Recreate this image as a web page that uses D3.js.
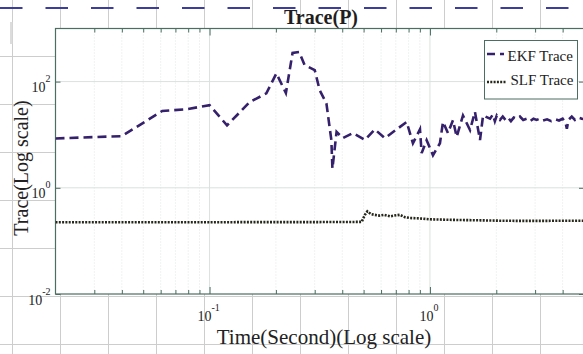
<!DOCTYPE html>
<html>
<head>
<meta charset="utf-8">
<script src="https://cdn.jsdelivr.net/npm/d3@7"></script>
<style>
  html, body { margin: 0; padding: 0; background: #fff; }
  svg { display: block; }
</style>
</head>
<body>
<svg id="chart" width="583" height="354"></svg>
<script>
'use strict';

// EKF trace (dashed)
var ekfTime = [0.02, 0.04, 0.061, 0.078, 0.1, 0.12, 0.152, 0.181, 0.201, 0.222, 0.238, 0.255,
    0.27, 0.3, 0.316, 0.339, 0.351, 0.357, 0.361, 0.377, 0.402, 0.447, 0.507, 0.562, 0.624,
    0.706, 0.784, 0.837, 0.901, 0.917, 0.966, 1.032, 1.11, 1.146, 1.207, 1.272, 1.322, 1.412,
    1.52, 1.6, 1.687, 1.742, 1.874, 1.93, 1.97, 2.01, 2.08, 2.14, 2.2, 2.26, 2.33, 2.4, 2.48,
    2.56, 2.65, 2.75, 2.85, 2.95, 3.05, 3.15, 3.26, 3.4, 3.55, 3.7, 3.85, 4.0, 4.12, 4.18,
    4.25, 4.4, 4.55, 4.7, 4.89, 5.0];
var ekfTrace = [8.5, 9.4, 28, 30, 36, 15, 41, 60, 143, 61, 346, 360,
    204, 165, 69, 39, 13.3, 7.9, 2.3, 11.3, 8.6, 10.7, 8, 12.6, 8.6,
    12.6, 17.4, 6.9, 12.6, 4.5, 7.9, 4.1, 6.9, 17.4, 10.7, 18.8, 9.1, 23,
    12.2, 27, 7.9, 23, 20, 24, 18, 23, 19, 22, 19, 21, 18, 21, 20,
    22, 19, 20, 18, 20, 19, 20, 18.5, 19.5, 18, 19.5, 18.5, 20, 17, 13,
    19, 22, 19, 21, 20, 19.5];

// SLF trace (dotted)
var slfTime = [0.02, 0.1, 0.3, 0.49, 0.507, 0.52, 0.54, 0.56, 0.59, 0.62, 0.66, 0.69, 0.73,
    0.77, 0.81, 0.9, 1.0, 1.2, 1.4, 1.7, 2.1, 2.6, 3.2, 4.0, 5.0];
var slfTrace = [0.225, 0.225, 0.226, 0.228, 0.31, 0.36, 0.32, 0.31, 0.3, 0.31, 0.29, 0.3, 0.31,
    0.28, 0.27, 0.265, 0.255, 0.25, 0.247, 0.244, 0.24, 0.238, 0.238, 0.24, 0.24];

var xMajorTicks = [0.1, 1];
var xMinorTicks = [0.03, 0.04, 0.05, 0.06, 0.07, 0.08, 0.09, 0.2, 0.3, 0.4, 0.5, 0.6, 0.7,
    0.8, 0.9, 2, 3, 4];
var yMajorTicks = [0.01, 1, 100];
var seriesLabels = ['EKF Trace', 'SLF Trace'];

var width = 583;
var height = 354;
var plot = {left: 55.5, right: 584, top: 28.5, bottom: 294};
var axisColor = '#4b6d62';
var serif = '"Liberation Serif", "Times New Roman", serif';
var ekfColor = '#35206c';
var slfColor = '#26261a';

var svg = d3.select('#chart');

// light sheet grid the figure was pasted onto
var sheet = svg.append('g').attr('stroke', '#cdcdcd').attr('stroke-width', 1);
d3.range(12.5, width, 48).forEach(function(gx) {
    sheet.append('line').attr('x1', gx).attr('x2', gx).attr('y1', 0).attr('y2', height);
});
d3.range(56.5, height, 48).forEach(function(gy) {
    sheet.append('line').attr('x1', 0).attr('x2', width).attr('y1', gy).attr('y2', gy);
});
svg.append('rect').attr('x', 10).attr('y', 22).attr('width', 2.5).attr('height', 22)
        .attr('fill', '#dcdcdc');
// dashed blue rule along the top
svg.append('line').attr('x1', 0).attr('x2', width).attr('y1', 8).attr('y2', 8)
        .attr('stroke', '#3d3d9c').attr('stroke-width', 2)
        .attr('stroke-dasharray', '22.5,23');

var x = d3.scaleLog().domain([0.02, 5]).range([plot.left, plot.right]);
var y = d3.scaleLog().domain([0.01, 1000]).range([plot.bottom, plot.top]);

// plot background covers the sheet grid
svg.append('rect')
        .attr('x', plot.left).attr('y', plot.top)
        .attr('width', plot.right - plot.left).attr('height', plot.bottom - plot.top)
        .attr('fill', '#fff');

// grid lines inside the axes
var grid = svg.append('g');
xMinorTicks.forEach(function(t) {
    grid.append('line')
            .attr('x1', x(t)).attr('x2', x(t)).attr('y1', plot.top).attr('y2', plot.bottom)
            .attr('stroke', '#dfe6e3').attr('stroke-width', 1).attr('stroke-dasharray', '1,2');
});
xMajorTicks.forEach(function(t) {
    grid.append('line')
            .attr('x1', x(t)).attr('x2', x(t)).attr('y1', plot.top).attr('y2', plot.bottom)
            .attr('stroke', '#d9e2de').attr('stroke-width', 1);
});
yMajorTicks.slice(1).forEach(function(v) {
    grid.append('line')
            .attr('x1', plot.left).attr('x2', plot.right).attr('y1', y(v)).attr('y2', y(v))
            .attr('stroke', '#d9e2de').attr('stroke-width', 1);
});

// axes: ticks drawn inward on all four sides
var addAxis = function(axis, tx, ty) {
    var g = svg.append('g').attr('transform', 'translate(' + tx + ',' + ty + ')').call(axis);
    g.select('.domain').remove();
    g.selectAll('line').attr('stroke', axisColor);
    g.selectAll('text').remove();
    return g;
};
addAxis(d3.axisBottom(x).tickValues(xMinorTicks).tickSize(-4), 0, plot.bottom);
addAxis(d3.axisBottom(x).tickValues(xMajorTicks).tickSize(-7), 0, plot.bottom);
addAxis(d3.axisTop(x).tickValues(xMinorTicks).tickSize(-4), 0, plot.top);
addAxis(d3.axisTop(x).tickValues(xMajorTicks).tickSize(-7), 0, plot.top);
addAxis(d3.axisLeft(y).tickValues(yMajorTicks).tickSize(-5), plot.left, 0);
addAxis(d3.axisRight(y).tickValues(yMajorTicks).tickSize(-5), plot.right, 0);

svg.append('rect')
        .attr('x', plot.left).attr('y', plot.top)
        .attr('width', plot.right - plot.left).attr('height', plot.bottom - plot.top)
        .attr('fill', 'none').attr('stroke', axisColor).attr('stroke-width', 1.2);

/**
 * Write a power-of-ten label as 10 with a raised exponent
 */
var powerLabel = function(sel, value) {
    var exp = Math.round(Math.log10(value));
    sel.append('tspan').text('10');
    sel.append('tspan').attr('dy', -10).attr('font-size', 10).text(exp);
};

xMajorTicks.forEach(function(t) {
    svg.append('text')
            .attr('x', x(t) - 1).attr('y', plot.bottom + 27)
            .attr('text-anchor', 'middle')
            .attr('font-family', serif).attr('font-size', 14).attr('fill', '#222')
            .call(powerLabel, t);
});
yMajorTicks.forEach(function(v) {
    svg.append('text')
            .attr('x', plot.left - 5).attr('y', y(v) + 10.5)
            .attr('text-anchor', 'end')
            .attr('font-family', serif).attr('font-size', 14).attr('fill', '#222')
            .call(powerLabel, v);
});

// clip the traces to the axes box
svg.append('clipPath').attr('id', 'plot-clip')
        .append('rect')
        .attr('x', plot.left).attr('y', plot.top)
        .attr('width', plot.right - plot.left).attr('height', plot.bottom - plot.top);

var line = d3.line()
        .x(function(d) { return x(d[0]); })
        .y(function(d) { return y(d[1]); });

var slfPoints = d3.zip(slfTime, slfTrace);
var ekfPoints = d3.zip(ekfTime, ekfTrace);

svg.append('path')
        .datum(slfPoints)
        .attr('clip-path', 'url(#plot-clip)')
        .attr('d', line)
        .attr('fill', 'none')
        .attr('stroke', slfColor)
        .attr('stroke-width', 2.6)
        .attr('stroke-dasharray', '2,1.3');

svg.append('path')
        .datum(ekfPoints)
        .attr('clip-path', 'url(#plot-clip)')
        .attr('d', line)
        .attr('fill', 'none')
        .attr('stroke', ekfColor)
        .attr('stroke-width', 2.6)
        .attr('stroke-dasharray', '9,5');

// legend
var legend = svg.append('g');
legend.append('rect')
        .attr('x', 484.5).attr('y', 40.5).attr('width', 93).attr('height', 58.5)
        .attr('fill', '#fff').attr('stroke', axisColor).attr('stroke-width', 1);
legend.append('line')
        .attr('x1', 487).attr('x2', 504).attr('y1', 54).attr('y2', 54)
        .attr('stroke', ekfColor).attr('stroke-width', 2.6).attr('stroke-dasharray', '8,5');
legend.append('line')
        .attr('x1', 487).attr('x2', 506).attr('y1', 82).attr('y2', 82)
        .attr('stroke', slfColor).attr('stroke-width', 2.6).attr('stroke-dasharray', '2,1.3');
legend.append('text')
        .attr('x', 507.5).attr('y', 60.5)
        .attr('font-family', serif).attr('font-size', 15).attr('fill', '#222')
        .text(seriesLabels[0]);
legend.append('text')
        .attr('x', 510.5).attr('y', 85)
        .attr('font-family', serif).attr('font-size', 15).attr('fill', '#222')
        .text(seriesLabels[1]);

// title and axis labels
svg.append('text')
        .attr('x', 321).attr('y', 23.5)
        .attr('text-anchor', 'middle')
        .attr('font-family', serif).attr('font-size', 20).attr('font-weight', 'bold')
        .attr('fill', '#1e1e1e')
        .text('Trace(P)');
svg.append('text')
        .attr('x', 324).attr('y', 344)
        .attr('text-anchor', 'middle')
        .attr('font-family', serif).attr('font-size', 21).attr('fill', '#222')
        .text('Time(Second)(Log scale)');
svg.append('text')
        .attr('transform', 'translate(28,168) rotate(-90)')
        .attr('text-anchor', 'middle')
        .attr('font-family', serif).attr('font-size', 20).attr('fill', '#222')
        .text('Trace(Log scale)');
</script>
</body>
</html>
